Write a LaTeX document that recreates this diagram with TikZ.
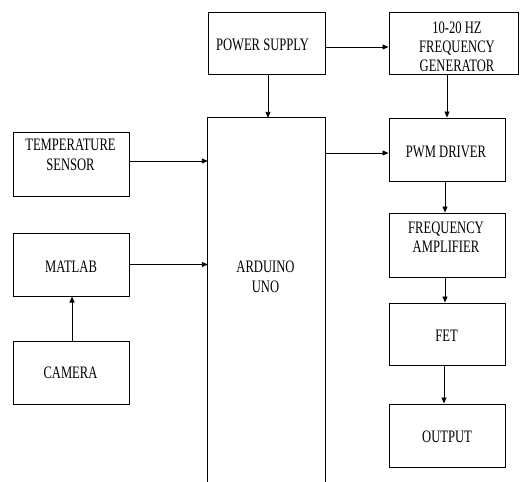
\documentclass[tikz,border=0pt]{standalone}
\usepackage{fontspec}
\usepackage{graphicx}
\setmainfont{Liberation Serif}
\usetikzlibrary{arrows.meta}
\newcommand{\nrw}[1]{\scalebox{0.72}[1]{#1}}
\begin{document}
\begin{tikzpicture}[x=1pt,y=-1pt,
  box/.style={draw=black,line width=1pt,minimum width=116pt,inner sep=0pt},
  txt/.style={font=\rmfamily\fontsize{17.5}{19.5}\selectfont,align=center,inner sep=0pt,text=black},
  arr/.style={line width=0.9pt,-{Triangle[length=6pt,width=5pt]}}]
\useasboundingbox[fill=white] (0,0) rectangle (520,482);
% boxes
\node[box,minimum width=117pt,minimum height=62pt] (ps) at (266.5,43) {};
\node[box,minimum width=129pt,minimum height=62pt] (fg) at (453.5,43) {};
\node[minimum width=117pt,minimum height=364pt,inner sep=0pt] (ard) at (266.5,300) {};
\draw[line width=1pt] (ard.south west) -- (ard.north west) -- (ard.north east) -- (ard.south east);
\node[box,minimum height=64pt] (ts) at (71,164) {};
\node[box,minimum height=63pt] (ml) at (71,264.5) {};
\node[box,minimum height=63pt] (cam) at (71,372.5) {};
\node[box,minimum height=63pt] (pwm) at (447,149.5) {};
\node[box,minimum height=64pt] (fa) at (447,245) {};
\node[box,minimum height=62pt] (fet) at (447,334) {};
\node[box,minimum height=63pt] (out) at (447,435.5) {};
% texts
\node[txt] (tps) at (262.5,45) {\nrw{POWER SUPPLY}};
\begin{scope}
\clip (389,12) rectangle (518,70.5);
\node[txt,font=\rmfamily\fontsize{17.5}{19.2}\selectfont] (tfg) at (457,47) {\nrw{10-20 HZ}\\\nrw{FREQUENCY}\\\nrw{GENERATOR}};
\end{scope}
\node[txt] (tard) at (265.5,277) {\nrw{ARDUINO}\\\nrw{UNO}};
\node[txt] (tts) at (70.5,155) {\nrw{TEMPERATURE}\\\nrw{SENSOR}};
\node[txt] (tml) at (71,266.7) {\nrw{MATLAB}};
\node[txt] (tcam) at (70.5,373) {\nrw{CAMERA}};
\node[txt] (tpwm) at (446,151.7) {\nrw{PWM DRIVER}};
\node[txt] (tfa) at (446,237) {\nrw{FREQUENCY}\\\nrw{AMPLIFIER}};
\node[txt] (tfet) at (446.5,335.7) {\nrw{FET}};
\node[txt] (tout) at (447,436.7) {\nrw{OUTPUT}};
% connectors
\draw[arr] ([yshift=-4pt]ps.east) -- ([yshift=-4pt]fg.west);
\draw[arr] ([xshift=1.5pt]ps.south) -- ([xshift=1.5pt]ard.north);
\draw[arr] (fg.south -| pwm.north) -- (pwm.north);
\draw[arr] ([yshift=-3.5pt]pwm.west -| ard.east) -- ([yshift=-3.5pt]pwm.west);
\draw[arr] ([yshift=3pt]ts.east) -- ([yshift=3pt]ts.east -| ard.west);
\draw[arr] (ml.east) -- (ml.east -| ard.west);
\draw[arr] ([xshift=1pt]cam.north) -- ([xshift=1pt]ml.south);
\draw[arr] ([xshift=-2pt]pwm.south) -- ([xshift=-2pt]fa.north);
\draw[arr] ([xshift=-2pt]fa.south) -- ([xshift=-2pt]fet.north);
\draw[arr] ([xshift=-3pt]fet.south) -- ([xshift=-3pt]out.north);
\end{tikzpicture}
\end{document}
